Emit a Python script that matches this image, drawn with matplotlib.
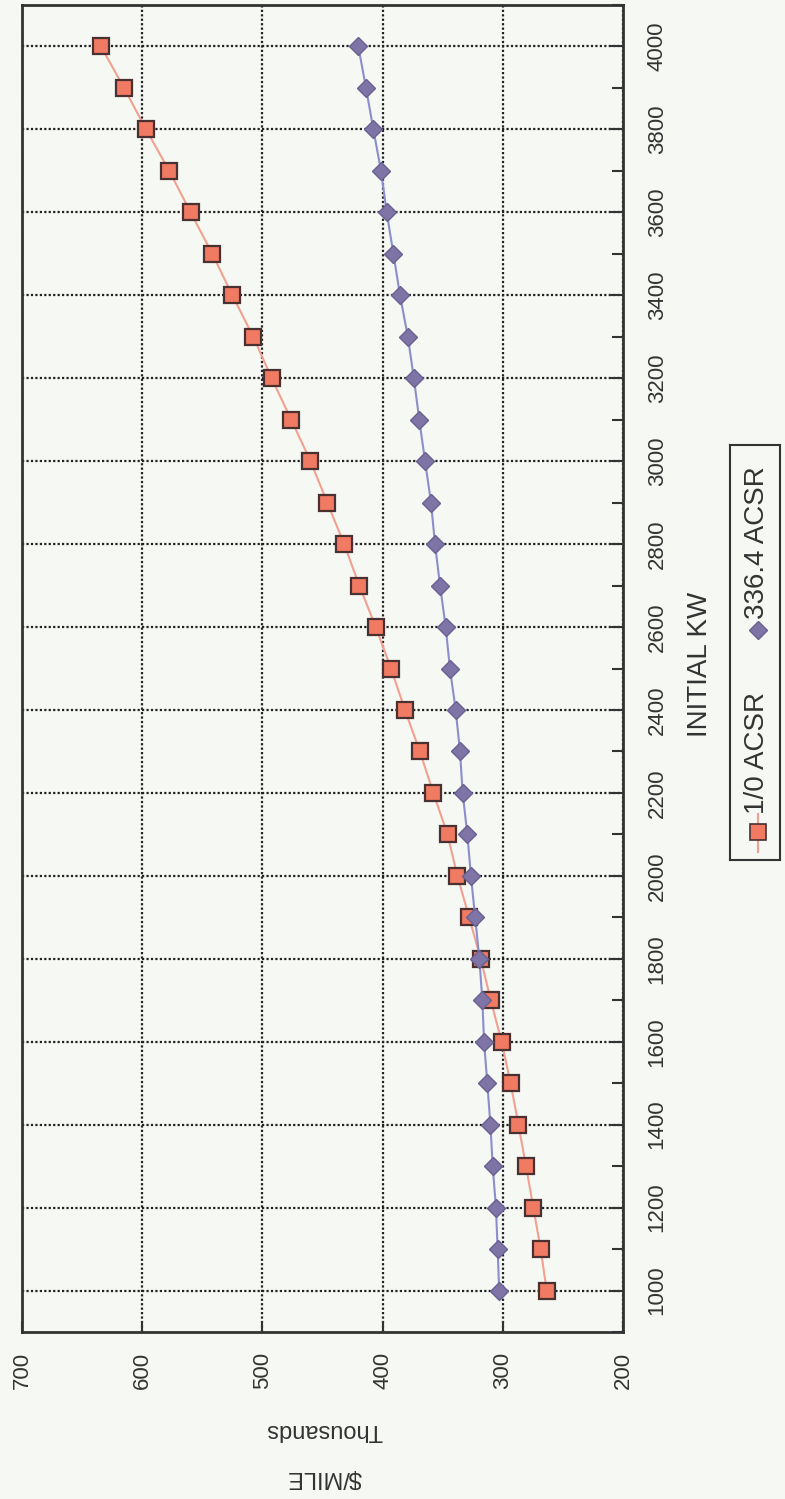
import matplotlib.pyplot as plt
from matplotlib.ticker import MultipleLocator

kw = [1000, 1100, 1200, 1300, 1400, 1500, 1600, 1700, 1800, 1900, 2000,
      2100, 2200, 2300, 2400, 2500, 2600, 2700, 2800, 2900, 3000,
      3100, 3200, 3300, 3400, 3500, 3600, 3700, 3800, 3900, 4000]
acsr_1_0 = [263.5, 268.5, 274.6, 280.7, 287.0, 293.5, 301.0, 310.0, 318.4, 328.0, 337.8,
            346.0, 357.8, 369.0, 381.4, 393.0, 405.7, 419.4, 432.0, 446.0, 460.0,
            476.0, 492.3, 507.6, 525.0, 541.7, 559.7, 577.5, 596.8, 615.1, 634.3]
acsr_336 = [303.0, 304.3, 305.7, 308.4, 310.3, 312.9, 315.6, 317.0, 319.5, 323.0, 326.5,
            329.5, 333.4, 335.6, 339.2, 344.0, 347.5, 352.2, 356.4, 359.7, 364.7,
            369.5, 374.0, 379.0, 385.5, 391.0, 396.6, 401.3, 407.7, 413.8, 420.2]
cost_ticks = [700, 600, 500, 400, 300, 200]
kw_ticks = [1000, 1200, 1400, 1600, 1800, 2000, 2200, 2400, 2600, 2800,
            3000, 3200, 3400, 3600, 3800, 4000]

# colours
bg = '#f5f8f3'
txt = '#333333'
sq_fill = '#f07a62'
sq_edge = '#4a3030'
sq_line = '#f2a090'
di_fill = '#7f74a6'
di_edge = '#6a6092'
di_line = '#8a8ecc'

plt.rcParams['font.family'] = ['Liberation Sans', 'DejaVu Sans']

W, H = 785, 1499
fig = plt.figure(figsize=(W / 100, H / 100), dpi=100, facecolor=bg)
ax = fig.add_axes([22 / W, 1 - 1332 / H, (623 - 22) / W, (1332 - 5) / H])
ax.set_facecolor(bg)

# chart is turned on its side: KW runs upward, cost runs right-to-left
ax.plot(acsr_1_0, kw, '-', color=sq_line, lw=1.5, marker='s', ms=11,
        mfc=sq_fill, mec=sq_edge, mew=1.6, zorder=3)
ax.plot(acsr_336, kw, '-', color=di_line, lw=1.5, marker='D', ms=9,
        mfc=di_fill, mec=di_edge, mew=1.0, zorder=4)

ax.set_xlim(700, 200)
ax.set_ylim(900, 4100)
ax.set_xticks(cost_ticks)
ax.set_xticklabels([str(v) for v in cost_ticks], rotation=90)
ax.set_yticks(kw_ticks)
ax.set_yticklabels([str(v) for v in kw_ticks], rotation=90, va='center')
ax.yaxis.set_minor_locator(MultipleLocator(100))
ax.yaxis.tick_right()

ax.tick_params(axis='x', direction='in', length=8, width=1.5, color='#333',
               labelsize=16, labelcolor=txt, pad=14, top=False)
ax.tick_params(axis='y', which='major', direction='in', length=10, width=1.5,
               color='#333', labelsize=16, labelcolor=txt, pad=17, left=False)
ax.tick_params(axis='y', which='minor', direction='in', length=8, width=1.5,
               color='#333', left=False)

ax.grid(True, which='major', color='#222222', linestyle=(0, (1, 1)), lw=1.6)
for s in ax.spines.values():
    s.set_color('#333333')
    s.set_linewidth(2)

fig.text(700 / W, 1 - 664 / H, 'INITIAL KW', rotation=90, ha='center', va='center',
         fontsize=20, color=txt)
fig.text(324 / W, 1 - 1430 / H, 'Thousands', rotation=180, ha='center', va='center',
         fontsize=17, color=txt)
fig.text(324 / W, 1 - 1477 / H, '$/MILE', rotation=180, ha='center', va='center',
         fontsize=17, color=txt)

# legend box, drawn sideways
lg = fig.add_axes([730 / W, 1 - 860 / H, 50 / W, 415 / H])
lg.set_facecolor(bg)
lg.set_xlim(0, 1)
lg.set_ylim(0, 1)
lg.set_xticks([])
lg.set_yticks([])
for s in lg.spines.values():
    s.set_color('#333333')
    s.set_linewidth(1.5)
lg.plot([0.55, 0.55], [0.02, 0.11], color=sq_line, lw=1.5)
lg.plot([0.55], [0.067], marker='s', ms=11, mfc=sq_fill, mec=sq_edge, mew=1.2)
lg.text(0.55, 0.11, '1/0 ACSR', rotation=90, ha='center', va='bottom',
        fontsize=20, color=txt)
lg.plot([0.55], [0.555], marker='D', ms=9, mfc=di_fill, mec=di_edge, mew=1.0)
lg.text(0.55, 0.58, '336.4 ACSR', rotation=90, ha='center', va='bottom',
        fontsize=20, color=txt)

plt.savefig('out.png', dpi=100, facecolor=bg)
